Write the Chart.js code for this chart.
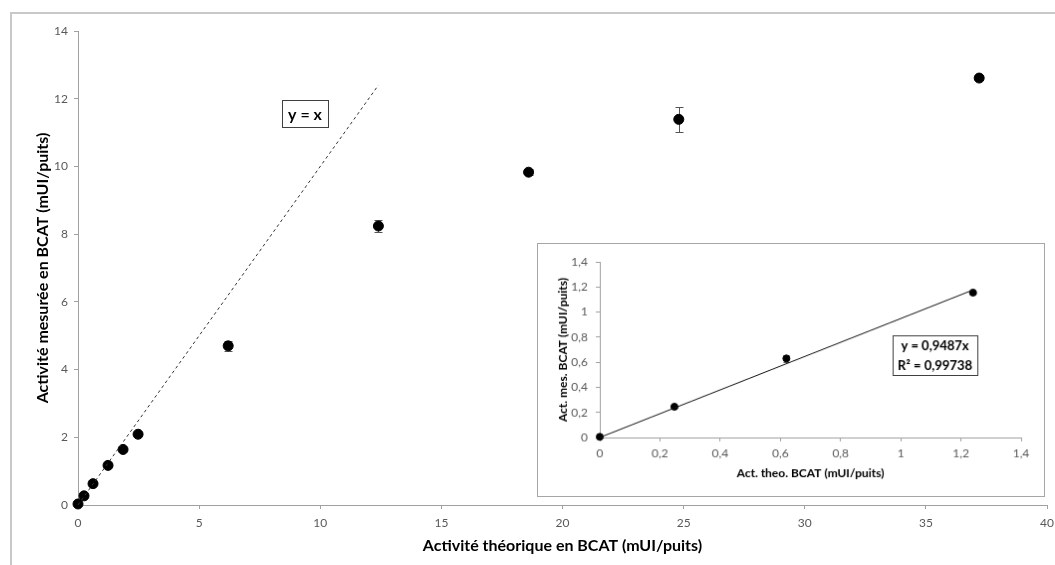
<!DOCTYPE html>
<html>
<head>
<meta charset="utf-8">
<script src="https://cdn.jsdelivr.net/npm/chart.js@4/dist/chart.umd.min.js"></script>
<style>
  html, body { margin: 0; padding: 0; background: #fff; }
  .wrap { position: relative; width: 1055px; height: 565px; }
  #main { position: absolute; left: 0; top: 0; }
  #inset { position: absolute; left: 537px; top: 243px; background: #fff; border: 1px solid #a6a6a6; }
</style>
</head>
<body>
<div class="wrap">
  <canvas id="main" width="1055" height="565"></canvas>
  <canvas id="inset" width="508" height="254"></canvas>
</div>
<script>
// main plot: theoretical vs measured BCAT activity
const theoX = [0, 0.248, 0.62, 1.24, 1.86, 2.48, 6.2, 12.4, 18.6, 24.8, 37.2];
const mesY = [0.03, 0.27, 0.63, 1.17, 1.64, 2.09, 4.70, 8.24, 9.83, 11.39, 12.61];
const mesErr = [0.01, 0.02, 0.03, 0.03, 0.04, 0.05, 0.15, 0.17, 0.08, 0.37, 0.05];
const identX = [0, 12.4];
const identY = [0, 12.4];

// inset: low range with linear fit
const insetX = [0, 0.248, 0.62, 1.24];
const insetY = [0.005, 0.245, 0.63, 1.155];
const insetErr = [0, 0.01, 0.03, 0.01];
const fitX = [0, 1.24];
const fitY = [0, 1.176];

const FONT = 'Lato, "Open Sans", sans-serif';
const TICK_COLOR = '#595959';
const AXIS_COLOR = '#a0a0a0';

const toPoints = (xs, ys) => xs.map((x, i) => ({x: x, y: ys[i]}));

// error bars go under the markers
const errorBars = {
  id: 'errorBars',
  beforeDatasetsDraw(chart, args, opts) {
    const {ctx, scales: {x, y}} = chart;
    chart.data.datasets.forEach((ds) => {
      if (!ds.errors) {
        return;
      }
      ctx.save();
      ctx.strokeStyle = '#555';
      ctx.lineWidth = 1;
      ds.data.forEach((p, i) => {
        const e = ds.errors[i];
        if (!e) {
          return;
        }
        const px = Math.round(x.getPixelForValue(p.x)) + 0.5;
        const top = Math.round(y.getPixelForValue(p.y + e)) + 0.5;
        const bot = Math.round(y.getPixelForValue(p.y - e)) + 0.5;
        ctx.beginPath();
        ctx.moveTo(px, top);
        ctx.lineTo(px, bot);
        ctx.moveTo(px - opts.cap, top);
        ctx.lineTo(px + opts.cap, top);
        ctx.moveTo(px - opts.cap, bot);
        ctx.lineTo(px + opts.cap, bot);
        ctx.stroke();
      });
      ctx.restore();
    });
  }
};

const textBox = {
  id: 'textBox',
  afterDraw(chart, args, opts) {
    const {ctx, chartArea} = chart;
    const bx = chartArea.left + opts.x;
    const by = chartArea.top + opts.y;
    ctx.save();
    ctx.fillStyle = '#fff';
    ctx.fillRect(bx, by, opts.w, opts.h);
    ctx.strokeStyle = '#404040';
    ctx.lineWidth = 1;
    ctx.strokeRect(bx + 0.5, by + 0.5, opts.w, opts.h);
    ctx.fillStyle = '#000';
    ctx.font = opts.font;
    ctx.textAlign = 'center';
    ctx.textBaseline = 'middle';
    const lh = opts.h / opts.lines.length;
    opts.lines.forEach((t, i) => {
      ctx.fillText(t, bx + opts.w / 2, by + lh * (i + 0.5) + 1);
    });
    ctx.restore();
  }
};

const frame = {
  id: 'frame',
  beforeDraw(chart) {
    const {ctx, width, height} = chart;
    ctx.save();
    ctx.strokeStyle = '#c8c8c8';
    ctx.lineWidth = 2;
    ctx.beginPath();
    ctx.moveTo(11, height);
    ctx.lineTo(11, 13);
    ctx.lineTo(width, 13);
    ctx.stroke();
    ctx.restore();
  }
};

const axisOpts = (min, max, step, title, size, titlePad, fitSize, horizontal, tickPad) => ({
  type: 'linear',
  min: min,
  max: max,
  afterFit(scale) {
    if (horizontal) {
      scale.height = fitSize;
      scale.paddingLeft = 0;
      scale.paddingRight = 0;
    } else {
      scale.width = fitSize;
    }
  },
  border: {color: AXIS_COLOR, width: 1},
  grid: {drawOnChartArea: false, drawTicks: true, tickLength: 4, color: AXIS_COLOR},
  ticks: {
    stepSize: step,
    color: TICK_COLOR,
    padding: tickPad,
    font: {family: FONT, size: 12},
    callback: (v) => String(Math.round(v * 10) / 10).replace('.', ',')
  },
  title: {
    display: true,
    text: title,
    color: '#000',
    font: {family: FONT, size: size, weight: 'bold'},
    padding: titlePad
  }
});

new Chart(document.getElementById('main'), {
  type: 'scatter',
  data: {
    datasets: [
      {
        data: toPoints(identX, identY),
        showLine: true,
        borderColor: '#333',
        borderWidth: 1,
        borderDash: [3, 3],
        pointRadius: 0,
        clip: false
      },
      {
        data: toPoints(theoX, mesY),
        errors: mesErr,
        backgroundColor: '#000',
        borderColor: '#000',
        pointRadius: 5,
        clip: false
      }
    ]
  },
  options: {
    responsive: false,
    animation: false,
    layout: {padding: {left: 0, top: 31, right: 8, bottom: 0}},
    plugins: {
      legend: {display: false},
      tooltip: {enabled: false},
      errorBars: {cap: 4},
      textBox: {x: 204, y: 69, w: 46, h: 27, lines: ['y = x'], font: 'bold 16px ' + FONT}
    },
    scales: {
      x: axisOpts(0, 40, 5, 'Activité théorique en BCAT (mUI/puits)', 16, {top: 0, bottom: 10}, 60, true, 7),
      y: axisOpts(0, 14, 2, 'Activité mesurée en BCAT (mUI/puits)', 16, {top: 33, bottom: 0}, 78, false, 6)
    }
  },
  plugins: [frame, errorBars, textBox]
});

new Chart(document.getElementById('inset'), {
  type: 'scatter',
  data: {
    datasets: [
      {
        data: toPoints(fitX, fitY),
        showLine: true,
        borderColor: '#111',
        borderWidth: 1,
        pointRadius: 0,
        clip: false
      },
      {
        data: toPoints(insetX, insetY),
        errors: insetErr,
        backgroundColor: '#000',
        borderColor: '#000',
        pointRadius: 3.5,
        clip: false
      }
    ]
  },
  options: {
    responsive: false,
    animation: false,
    layout: {padding: {left: 0, top: 18, right: 23, bottom: 0}},
    plugins: {
      legend: {display: false},
      tooltip: {enabled: false},
      errorBars: {cap: 3},
      textBox: {x: 294, y: 74, w: 85, h: 40, lines: ['y = 0,9487x', 'R² = 0,99738'], font: 'bold 13px ' + FONT}
    },
    scales: {
      x: axisOpts(0, 1.4, 0.2, 'Act. theo. BCAT (mUI/puits)', 12, {top: 0, bottom: 16}, 59, true, 5),
      y: axisOpts(0, 1.4, 0.2, 'Act. mes. BCAT (mUI/puits)', 12, {top: 18, bottom: 0}, 62, false, 8)
    }
  },
  plugins: [errorBars, textBox]
});
</script>
</body>
</html>
